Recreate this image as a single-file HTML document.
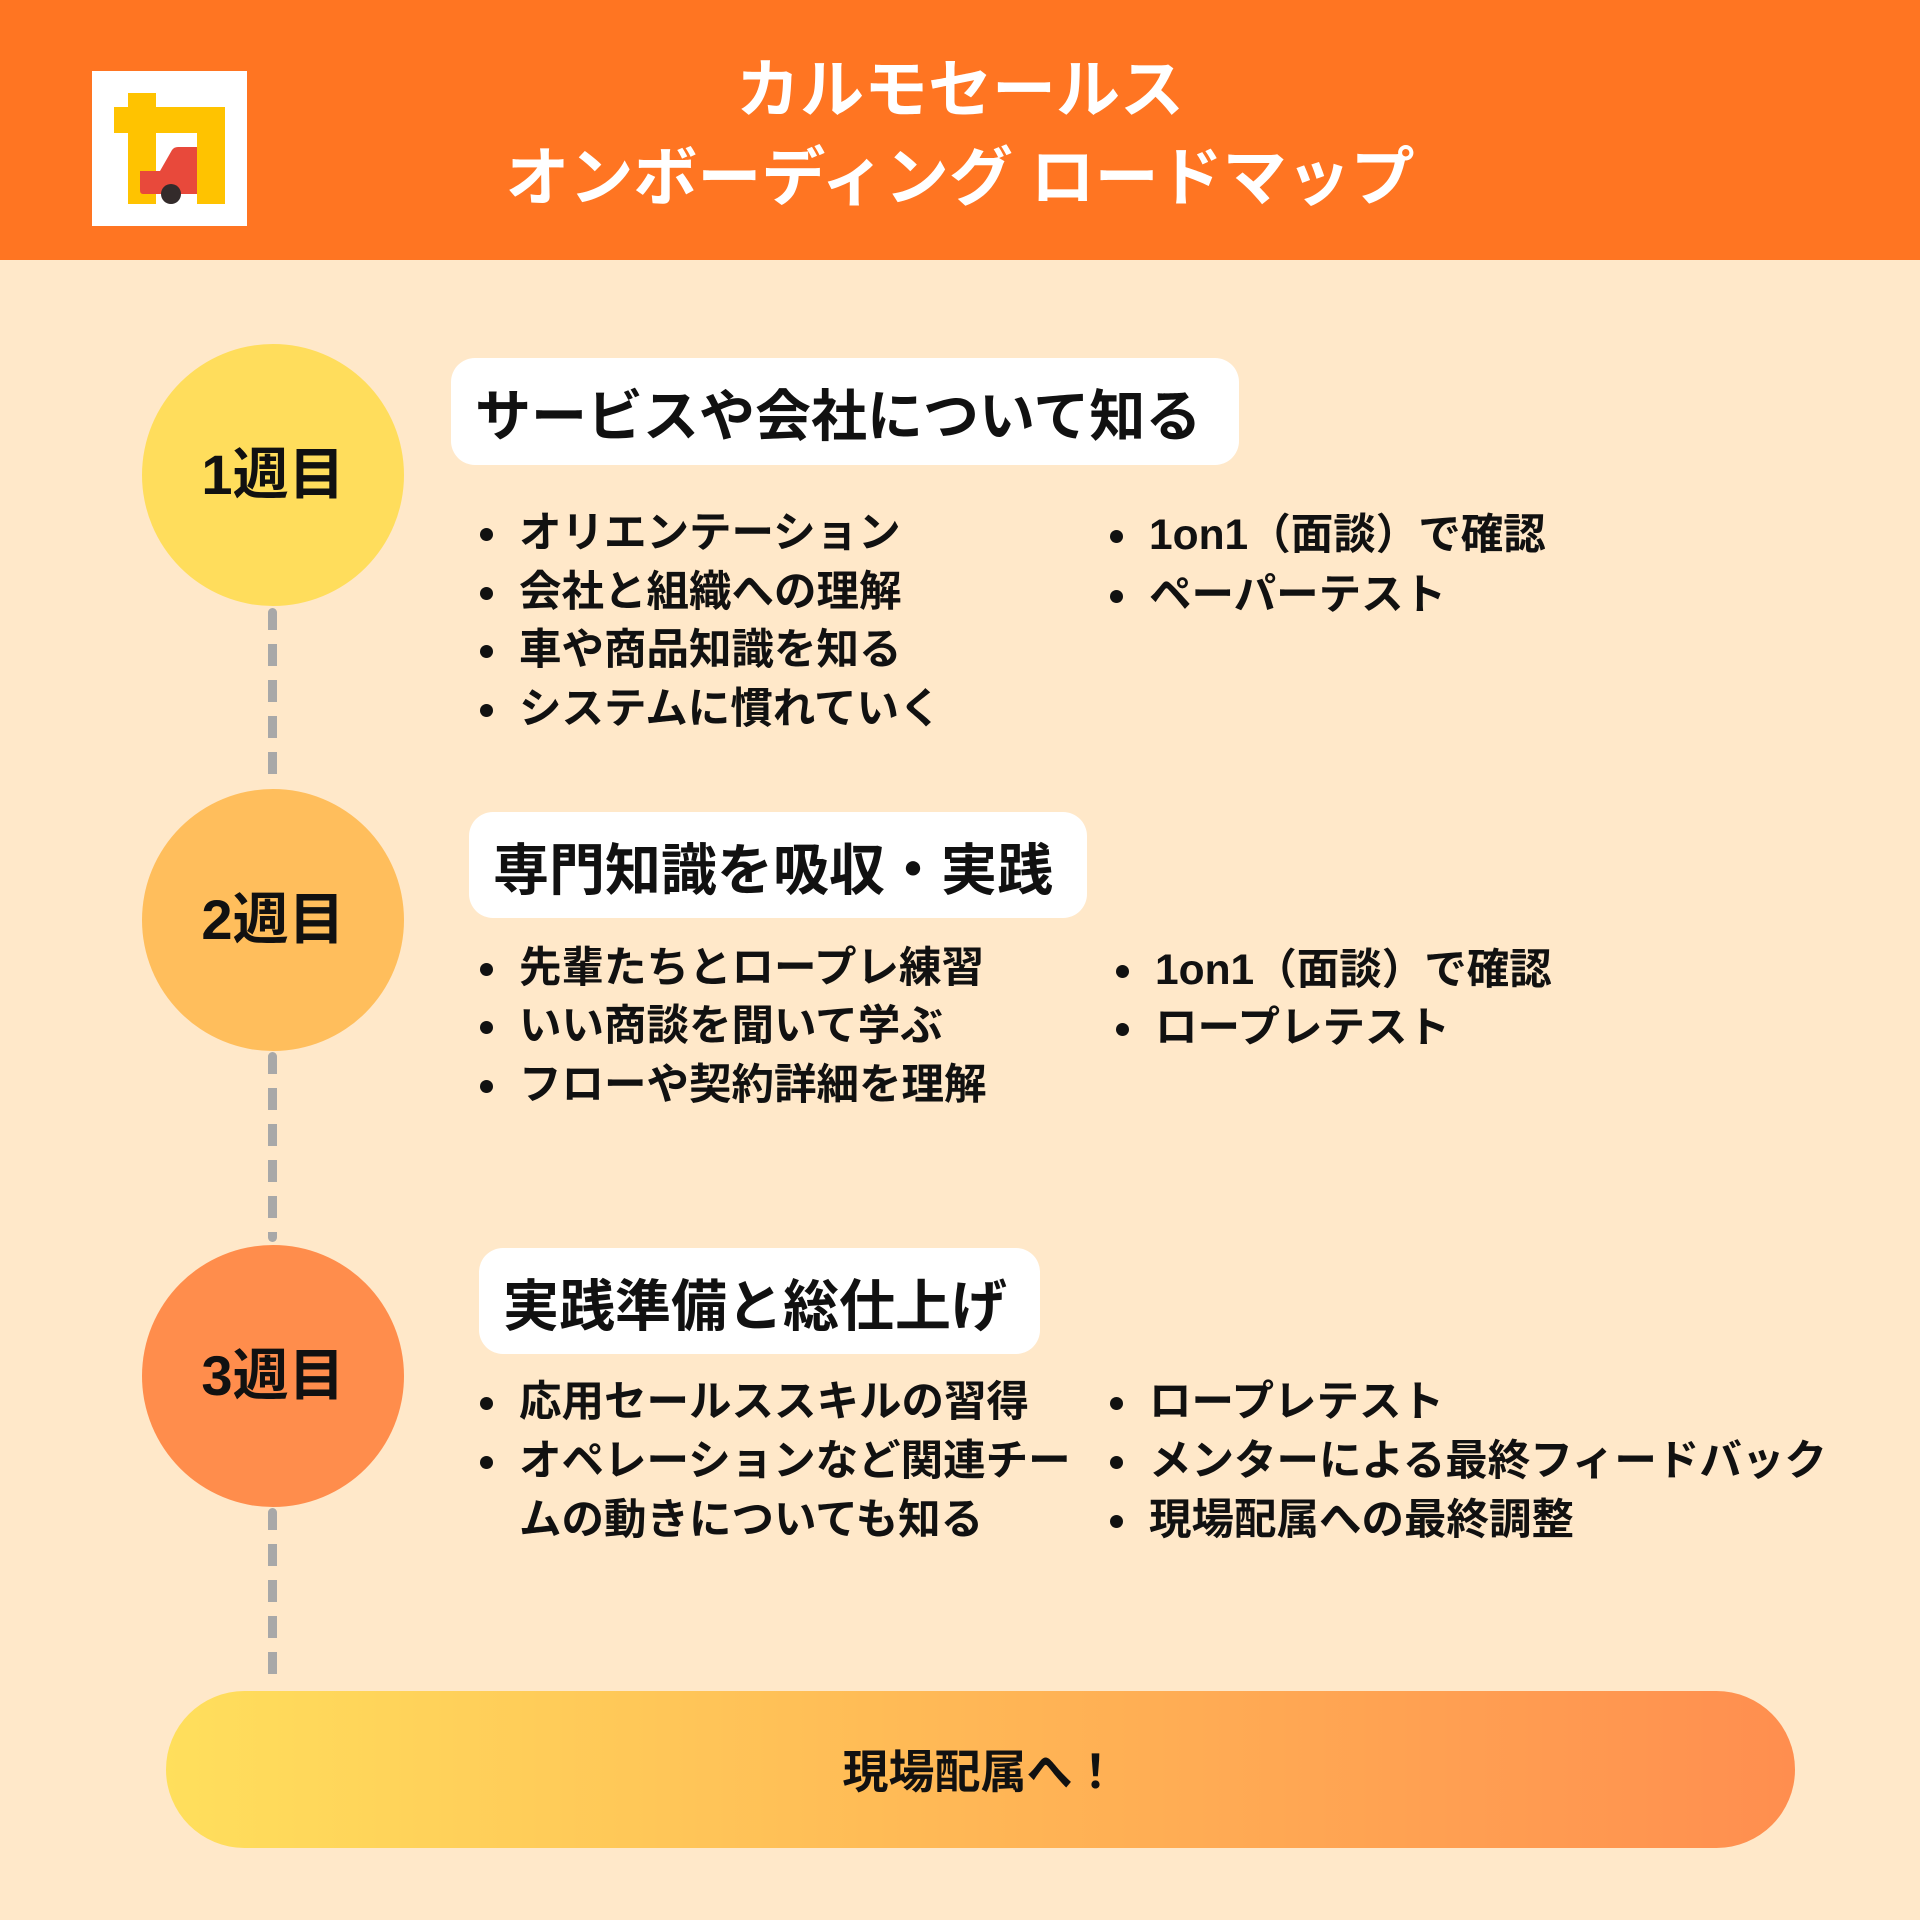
<!DOCTYPE html>
<html><head><meta charset="utf-8">
<style>
*{margin:0;padding:0;box-sizing:border-box}
body{width:1920px;height:1920px;background:#FFE8C9;position:relative;overflow:hidden;font-family:"Liberation Sans","Noto Sans CJK JP",sans-serif;font-weight:bold;color:#111}
.hdr{position:absolute;left:0;top:0;width:1920px;height:260px;background:#FF7522}
.t{position:absolute;left:0;width:1920px;text-align:center;color:#fff;font-size:64px;line-height:80px}
.abs{position:absolute}
.circ{position:absolute;left:142px;width:262px;height:262px;border-radius:50%;text-align:center;line-height:262px;font-size:56px}
.dash{position:absolute;left:268px;width:9px;background:repeating-linear-gradient(to bottom,#A8A8A8 0 22px,transparent 22px 36px);border-radius:5px}
.box{position:absolute;background:#fff;border-radius:24px;font-size:56px;line-height:118px;padding-left:24px;white-space:nowrap}
.li{position:absolute;font-size:42.5px;line-height:56px;white-space:nowrap}
.li:before{content:"";position:absolute;left:-39px;top:22px;width:13px;height:13px;border-radius:50%;background:#111}
.li.nb:before{display:none}
</style></head><body>
<div class="hdr"></div>
<div class="t" style="top:50px">カルモセールス</div>
<div class="t" style="top:138px">オンボーディング ロードマップ</div>
<svg class="abs" style="left:92px;top:71px" width="155" height="155" viewBox="92 71 155 155">
<rect x="92" y="71" width="155" height="155" fill="#fff"/>
<rect x="128" y="93" width="28" height="111" fill="#FFC300"/>
<rect x="114" y="107" width="111" height="26" fill="#FFC300"/>
<rect x="197" y="107" width="28" height="97" fill="#FFC300"/>
<path d="M140 171 L160 171 L172 150 Q174 147 178 147 L197 147 L197 194 L143 194 Q140 194 140 190 Z" fill="#E8493B"/>
<circle cx="171" cy="194" r="10" fill="#332B2B"/>
</svg>

<div class="dash" style="top:608px;height:180px"></div>
<div class="dash" style="top:1052px;height:190px"></div>
<div class="dash" style="top:1508px;height:170px"></div>

<div class="circ" style="top:344px;background:#FFDD5C">1週目</div>
<div class="circ" style="top:789px;background:#FFBE5C">2週目</div>
<div class="circ" style="top:1245px;background:#FF8D4C">3週目</div>

<div class="box" style="left:451px;top:358px;width:788px;height:107px">サービスや会社について知る</div>
<div class="box" style="left:469px;top:812px;width:618px;height:106px">専門知識を吸収・実践</div>
<div class="box" style="left:479px;top:1248px;width:561px;height:106px">実践準備と総仕上げ</div>

<div class="li" style="left:519px;top:506px">オリエンテーション</div>
<div class="li" style="left:519px;top:565px">会社と組織への理解</div>
<div class="li" style="left:519px;top:623px">車や商品知識を知る</div>
<div class="li" style="left:519px;top:682px">システムに慣れていく</div>
<div class="li" style="left:1149px;top:508px">1on1（面談）で確認</div>
<div class="li" style="left:1149px;top:568px">ペーパーテスト</div>

<div class="li" style="left:519px;top:941px">先輩たちとロープレ練習</div>
<div class="li" style="left:519px;top:999px">いい商談を聞いて学ぶ</div>
<div class="li" style="left:519px;top:1058px">フローや契約詳細を理解</div>
<div class="li" style="left:1155px;top:943px">1on1（面談）で確認</div>
<div class="li" style="left:1155px;top:1001px">ロープレテスト</div>

<div class="li" style="left:519px;top:1375px">応用セールススキルの習得</div>
<div class="li" style="left:519px;top:1434px">オペレーションなど関連チー</div>
<div class="li nb" style="left:519px;top:1493px">ムの動きについても知る</div>
<div class="li" style="left:1149px;top:1375px">ロープレテスト</div>
<div class="li" style="left:1149px;top:1434px">メンターによる最終フィードバック</div>
<div class="li" style="left:1149px;top:1493px">現場配属への最終調整</div>

<div class="abs" style="left:166px;top:1691px;width:1629px;height:157px;border-radius:79px;background:linear-gradient(to right,#FFDF5C,#FF8E4F);text-align:center;line-height:162px;font-size:46px">現場配属へ！</div>
</body></html>
